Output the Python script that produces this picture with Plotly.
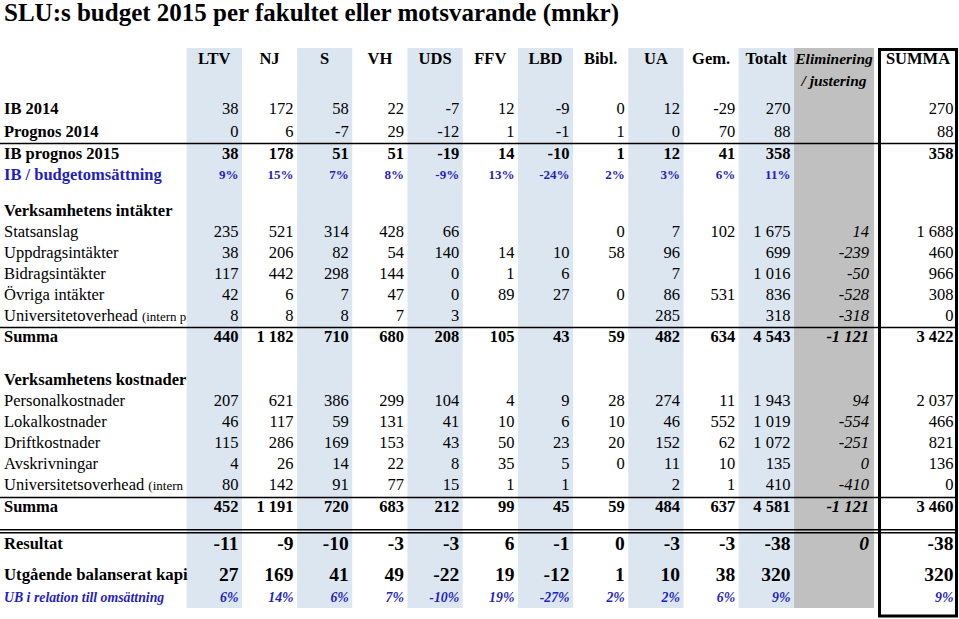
import plotly.graph_objects as go

columns = ["LTV", "NJ", "S", "VH", "UDS", "FFV", "LBD", "Bibl.", "UA", "Gem.", "Totalt"]

# 11 units, then Eliminering / justering, then SUMMA  (None = empty cell)
ib_2014 = [38, 172, 58, 22, -7, 12, -9, 0, 12, -29, 270, None, 270]
prognos_2014 = [0, 6, -7, 29, -12, 1, -1, 1, 0, 70, 88, None, 88]
ib_prognos_2015 = [38, 178, 51, 51, -19, 14, -10, 1, 12, 41, 358, None, 358]
ib_andel = [9, 15, 7, 8, -9, 13, -24, 2, 3, 6, 11, None, None]

statsanslag = [235, 521, 314, 428, 66, None, None, 0, 7, 102, 1675, 14, 1688]
uppdragsintakter = [38, 206, 82, 54, 140, 14, 10, 58, 96, None, 699, -239, 460]
bidragsintakter = [117, 442, 298, 144, 0, 1, 6, None, 7, None, 1016, -50, 966]
ovriga_intakter = [42, 6, 7, 47, 0, 89, 27, 0, 86, 531, 836, -528, 308]
overhead_intakter = [8, 8, 8, 7, 3, None, None, None, 285, None, 318, -318, 0]
summa_intakter = [440, 1182, 710, 680, 208, 105, 43, 59, 482, 634, 4543, -1121, 3422]

personalkostnader = [207, 621, 386, 299, 104, 4, 9, 28, 274, 11, 1943, 94, 2037]
lokalkostnader = [46, 117, 59, 131, 41, 10, 6, 10, 46, 552, 1019, -554, 466]
driftkostnader = [115, 286, 169, 153, 43, 50, 23, 20, 152, 62, 1072, -251, 821]
avskrivningar = [4, 26, 14, 22, 8, 35, 5, 0, 11, 10, 135, 0, 136]
overhead_kostnader = [80, 142, 91, 77, 15, 1, 1, None, 2, 1, 410, -410, 0]
summa_kostnader = [452, 1191, 720, 683, 212, 99, 45, 59, 484, 637, 4581, -1121, 3460]

resultat = [-11, -9, -10, -3, -3, 6, -1, 0, -3, -3, -38, 0, -38]
utgaende_kapital = [27, 169, 41, 49, -22, 19, -12, 1, 10, 38, 320, None, 320]
ub_andel = [6, 14, 6, 7, -10, 19, -27, 2, 2, 6, 9, None, 9]

SERIF = "Liberation Serif, Times New Roman, serif"
BLUE = "#1f1fbf"
W, H = 959, 619
COL_LEFT, COL_W = 186.7, 55.2
ELIM_X0, ELIM_X1 = 794, 874
BOX_X0, BOX_X1 = 879.5, 956.5
STRIPE_TOP, STRIPE_BOTTOM = 48, 608


def fmt(v, pct=False):
    if v is None:
        return ""
    if pct:
        return f"{v}%"
    return f"{v:,}".replace(",", " ")


def small(text, size=13):
    return f"<span style='font-size:{size}px'>{text}</span>"


fig = go.Figure()


def add_text(xs, ys, texts, pos, size, color="black", weight="normal", style="normal"):
    fig.add_trace(go.Scatter(
        x=xs, y=ys, text=texts, mode="text", textposition=pos,
        textfont=dict(family=SERIF, size=size, color=color, weight=weight, style=style),
        hoverinfo="skip", showlegend=False, cliponaxis=False))


# right edge of each number column
num_x = [COL_LEFT + (i + 1) * COL_W - 3.5 for i in range(len(columns))] + [869, 953.5]

# (label, values, y, label style, number style)
rows = [
    ("IB 2014", ib_2014, 110, "b", "n"),
    ("Prognos 2014", prognos_2014, 133, "b", "n"),
    ("IB prognos 2015", ib_prognos_2015, 155, "b", "b"),
    ("IB / budgetomsättning", ib_andel, 176, "bblue", "pct"),
    ("Verksamhetens intäkter", None, 212, "b", None),
    ("Statsanslag", statsanslag, 233, "n", "n"),
    ("Uppdragsintäkter", uppdragsintakter, 254, "n", "n"),
    ("Bidragsintäkter", bidragsintakter, 275, "n", "n"),
    ("Övriga intäkter", ovriga_intakter, 296, "n", "n"),
    ("Universitetoverhead " + small("(intern p"), overhead_intakter, 317, "n", "n"),
    ("Summa", summa_intakter, 338, "b", "b"),
    ("Verksamhetens kostnader", None, 381, "b", None),
    ("Personalkostnader", personalkostnader, 402, "n", "n"),
    ("Lokalkostnader", lokalkostnader, 423, "n", "n"),
    ("Driftkostnader", driftkostnader, 444, "n", "n"),
    ("Avskrivningar", avskrivningar, 465, "n", "n"),
    ("Universitetsoverhead " + small("(intern"), overhead_kostnader, 486, "n", "n"),
    ("Summa", summa_kostnader, 508, "b", "b"),
    ("Resultat", resultat, 545, "b", "big"),
    ("Utgående balanserat kapi", utgaende_kapital, 576, "bbig", "big"),
    ("UB i relation till omsättning", ub_andel, 599, "ubblue", "ubpct"),
]

label_styles = {
    "n": dict(size=16.5),
    "b": dict(size=16.5, weight="bold"),
    "bbig": dict(size=16.8, weight="bold"),
    "bblue": dict(size=16.5, weight="bold", color=BLUE),
    "ubblue": dict(size=13.8, weight="bold", style="italic", color=BLUE),
}
num_styles = {
    "n": dict(size=16.5),
    "b": dict(size=16.5, weight="bold"),
    "big": dict(size=19.5, weight="bold"),
    "pct": dict(size=13, weight="bold", color=BLUE),
    "ubpct": dict(size=13.8, weight="bold", style="italic", color=BLUE),
}

# column stripes and the elimination column
shapes = []
for i in range(0, len(columns), 2):
    shapes.append(dict(type="rect", xref="x", yref="y", layer="below", line_width=0,
                       x0=COL_LEFT + i * COL_W, x1=COL_LEFT + (i + 1) * COL_W,
                       y0=STRIPE_TOP, y1=STRIPE_BOTTOM, fillcolor="#dce6f1"))
shapes.append(dict(type="rect", xref="x", yref="y", layer="below", line_width=0,
                   x0=ELIM_X0, x1=ELIM_X1, y0=STRIPE_TOP, y1=STRIPE_BOTTOM,
                   fillcolor="#c0c0c0"))

# horizontal rules
for y in [143.5, 327.5, 497.5, 529.8, 532.8]:
    shapes.append(dict(type="line", xref="x", yref="y", x0=0, x1=BOX_X1, y0=y, y1=y,
                       line=dict(color="black", width=1.5)))

# SUMMA frame
shapes.append(dict(type="rect", xref="x", yref="y", x0=BOX_X0, x1=BOX_X1, y0=49.5, y1=616,
                   line=dict(color="black", width=3)))

# title
add_text([4], [15], ["SLU:s budget 2015 per fakultet eller motsvarande (mnkr)"],
         "middle right", 25, weight="bold")

# header
centers = [COL_LEFT + (i + 0.5) * COL_W for i in range(len(columns))]
add_text(centers, [60] * len(columns), columns, "middle center", 16.5, weight="bold")
add_text([(ELIM_X0 + ELIM_X1) / 2] * 2, [60, 82], ["Eliminering", "/ justering"],
         "middle center", 15.5, weight="bold", style="italic")
add_text([(BOX_X0 + BOX_X1) / 2], [60], ["SUMMA"], "middle center", 16.5, weight="bold")

for label, values, y, lstyle, nstyle in rows:
    add_text([4], [y], [label], "middle right", **label_styles[lstyle])
    if values is None:
        continue
    pct = nstyle in ("pct", "ubpct")
    st = num_styles[nstyle]
    main_x = num_x[:11] + [num_x[12]]
    main_v = values[:11] + [values[12]]
    add_text(main_x, [y] * len(main_x), [fmt(v, pct) for v in main_v], "middle left", **st)
    if values[11] is not None:
        est = dict(st)
        est["style"] = "italic"
        add_text([num_x[11]], [y], [fmt(values[11], pct)], "middle left", **est)

fig.update_layout(
    width=W, height=H,
    margin=dict(l=0, r=0, t=0, b=0),
    paper_bgcolor="white", plot_bgcolor="white",
    xaxis=dict(range=[0, W], visible=False, fixedrange=True),
    yaxis=dict(range=[H, 0], visible=False, fixedrange=True),
    shapes=shapes,
)

fig.write_html("out.html", config={"displayModeBar": False},
               post_script="document.body.style.margin='0';")
